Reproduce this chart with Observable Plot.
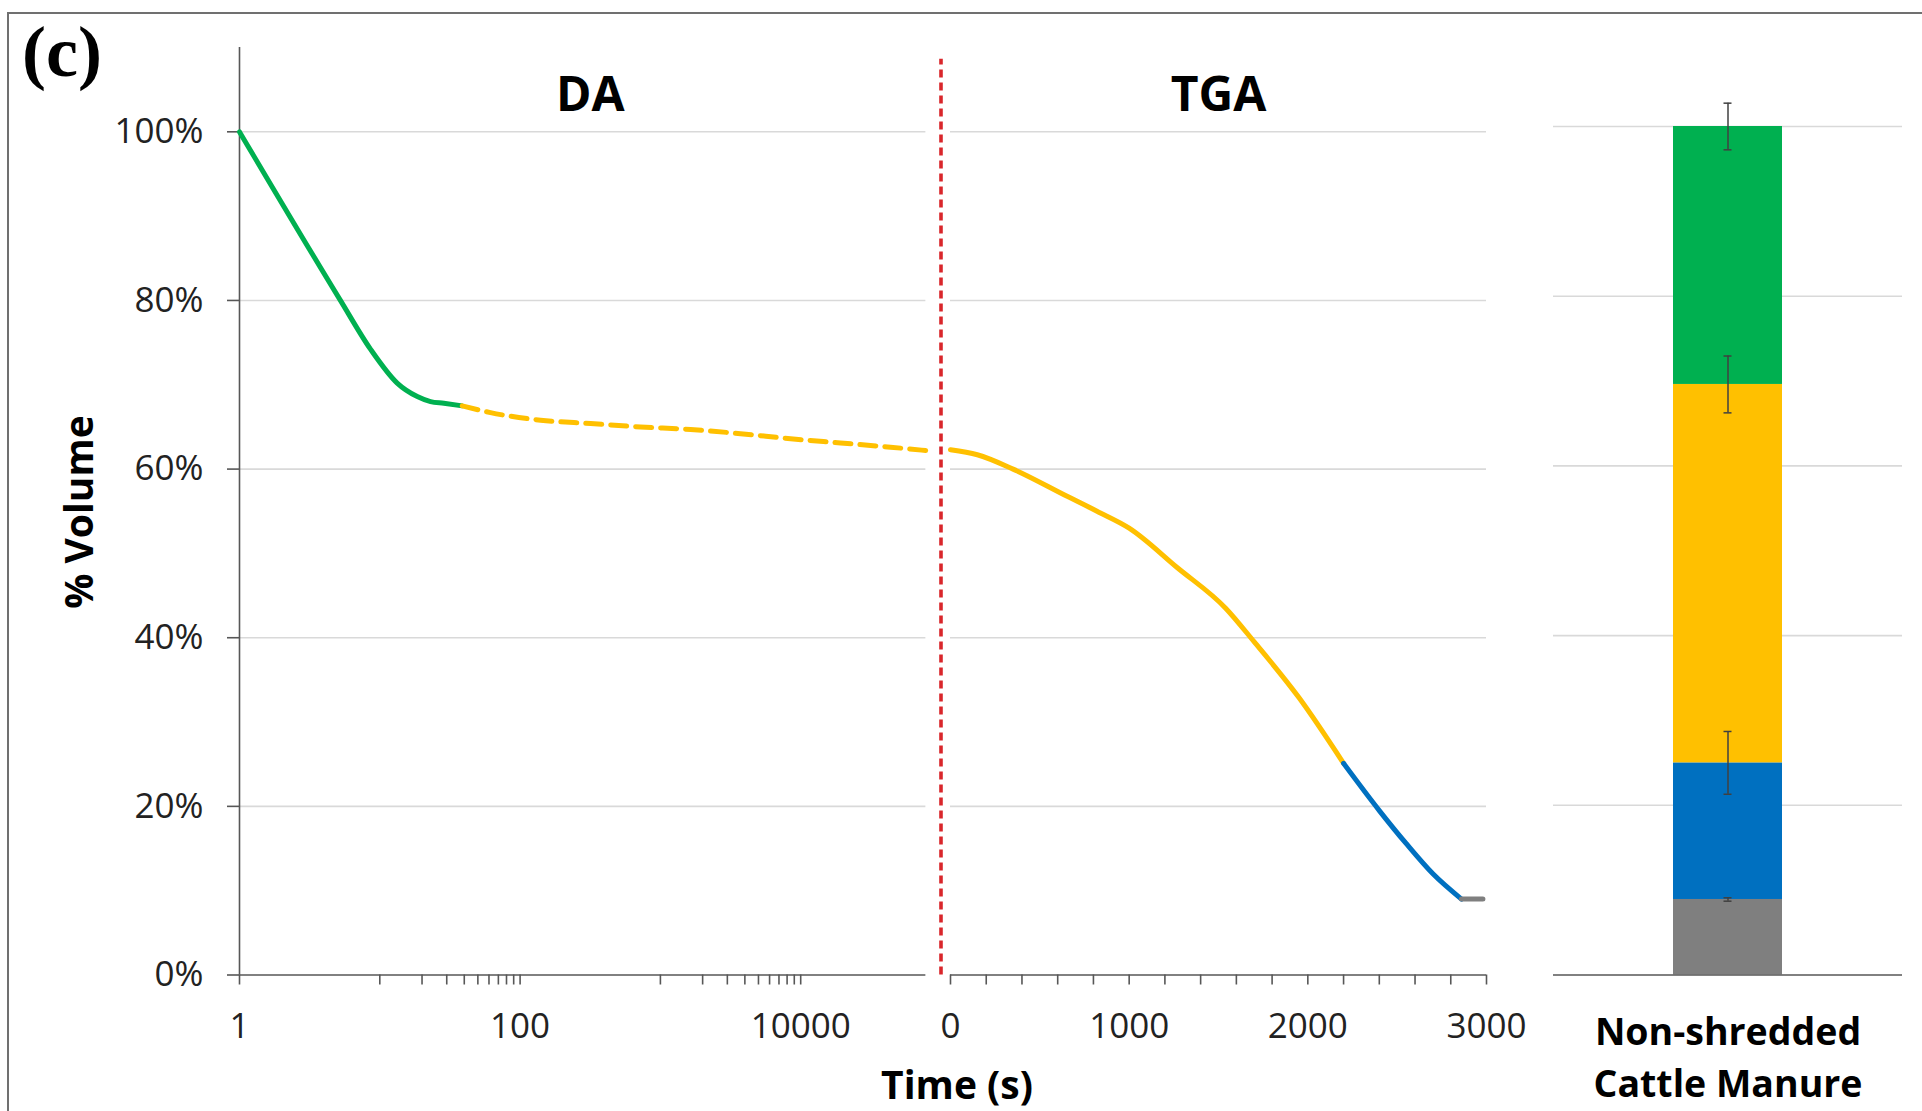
<!DOCTYPE html>
<html>
<head>
<meta charset="utf-8">
<script src="https://cdn.jsdelivr.net/npm/d3@7"></script>
<script src="https://cdn.jsdelivr.net/npm/@observablehq/plot@0.6"></script>
<style>
  html, body { margin: 0; padding: 0; background: #fff; overflow: hidden; }
  #wrap { position: relative; width: 1922px; height: 1111px; overflow: hidden; background: #fff; font-family: "Open Sans", sans-serif; }
  .abs { position: absolute; }
  #frame { left: 7px; top: 12px; width: 1960px; height: 1160px; border-left: 2px solid #707070; border-top: 2px solid #707070; }
  #panelLetter { left: 22px; top: 16px; font-family: "Liberation Serif", "Times New Roman", serif; font-weight: bold; font-size: 72px; line-height: 1; color: #000; }
  .axisTitle { font-weight: bold; font-size: 39px; line-height: 1; color: #000; white-space: nowrap; transform: translate(-50%, -50%); }
  #ylab { left: 77px; top: 512px; transform: translate(-50%, -50%) rotate(-90deg); }
  #xlab { left: 957px; top: 1083px; }
  .plotbox { position: absolute; top: 0; }
  .plotbox svg { max-width: none; }
</style>
</head>
<body>
<div id="wrap">
  <div id="frame" class="abs"></div>
  <div id="daBox" class="plotbox" style="left:0px"></div>
  <div id="tgaBox" class="plotbox" style="left:945px"></div>
  <div id="barBox" class="plotbox" style="left:1545px"></div>
  <div id="panelLetter" class="abs">(c)</div>
  <div id="ylab" class="abs axisTitle">% Volume</div>
  <div id="xlab" class="abs axisTitle">Time (s)</div>
</div>
<script>
// ---------------- data ----------------
const yTicks = [0, 20, 40, 60, 80, 100];
const gridTicks = [20, 40, 60, 80, 100];

const daLabelTicks = [1, 100, 10000];
const daMinorTicks = [10, 20, 30, 40, 50, 60, 70, 80, 90, 1000, 2000, 3000, 4000, 5000, 6000, 7000, 8000, 9000];
const daAxisEnd = 78000;
const daDivider = [100000];

const tgaTicks = [0, 200, 400, 600, 800, 1000, 1200, 1400, 1600, 1800, 2000, 2200, 2400, 2600, 2800, 3000];
const tgaLabelTicks = [0, 1000, 2000, 3000];

const panelTitles = ["DA", "TGA"];

// DA stage (log time): green solid, then yellow dashed
const daGreenTime = [1, 5.2, 8.6, 13.3, 18.5, 23, 28.6, 38.7];
const daGreenVol  = [100, 80.1, 74.2, 70.2, 68.6, 68.0, 67.8, 67.5];
const daYellowTime = [38.7, 61.5, 140, 318, 721, 1640, 3724, 8459, 19220, 43650, 78000];
const daYellowVol  = [67.5, 66.7, 65.8, 65.4, 65.0, 64.7, 64.2, 63.6, 63.1, 62.6, 62.2];

// TGA stage (linear time)
const tgaYellowTime = [0, 150, 350, 650, 820, 1000, 1270, 1540, 1700, 1950, 2200];
const tgaYellowVol  = [62.3, 61.7, 60.0, 56.8, 55.0, 53.0, 48.3, 43.5, 39.5, 32.9, 25.1];
const tgaBlueTime = [2200, 2400, 2550, 2700, 2860];
const tgaBlueVol  = [25.1, 19.5, 15.6, 12.0, 9.0];
const tgaGrayTime = [2860, 2980];
const tgaGrayVol  = [9.0, 9.0];

// Stacked bar (bottom to top)
const barCategory = ["Non-shredded\nCattle Manure"];
const barParts  = ["Residue", "Fraction 3", "Fraction 2", "Fraction 1"];
const barValues = [8.9, 16.1, 44.6, 30.4];
const barErrors = [0.2, 3.7, 3.35, 2.75];

// ---------------- styles ----------------
const C = { green: "#00B050", yellow: "#FFC000", blue: "#0070C0", gray: "#7F7F7F", red: "#D9262B",
            grid: "#D9D9D9", axis: "#575757", text: "#222222" };
const partColors = [C.gray, C.blue, C.yellow, C.green];
const zip = (xs, ys) => xs.map((x, i) => ({ x, y: ys[i] }));
const svgStyle = { background: "transparent", overflow: "visible", fontFamily: "Open Sans, sans-serif", fontSize: "35px", color: C.text };
const H = 1111, MT = 47, MB = 136.5, LW = 5;

// ---------------- DA panel ----------------
const da = Plot.plot({
  width: 945, height: H, marginLeft: 239, marginRight: 4.5, marginTop: MT, marginBottom: MB,
  style: svgStyle,
  x: { type: "log", domain: [1, 100000] },
  y: { domain: [0, 110] },
  marks: [
    Plot.ruleY(gridTicks, { x1: 1, x2: daAxisEnd, stroke: C.grid, strokeWidth: 1.6 }),
    Plot.ruleY([0], { x1: 1, x2: daAxisEnd, stroke: C.axis, strokeWidth: 1.6 }),
    Plot.ruleX([1], { y1: 0, y2: 110, stroke: C.axis, strokeWidth: 1.6 }),
    Plot.axisY({ ticks: yTicks, tickFormat: d => `${d}%`, tickSize: 12, tickPadding: 24, stroke: C.axis, strokeWidth: 1.6, fill: C.text, fontSize: 35, label: null }),
    Plot.axisX({ ticks: [...daLabelTicks, ...daMinorTicks], tickFormat: d => daLabelTicks.includes(d) ? String(d) : "",
                 tickSize: 10, tickPadding: 28, stroke: C.axis, strokeWidth: 1.6, fill: C.text, fontSize: 35, label: null }),
    Plot.line(zip(daGreenTime, daGreenVol), { x: "x", y: "y", stroke: C.green, strokeWidth: LW, curve: "monotone-x" }),
    Plot.line(zip(daYellowTime, daYellowVol), { x: "x", y: "y", stroke: C.yellow, strokeWidth: LW, strokeDasharray: "16,9", curve: "monotone-x" }),
    Plot.ruleX(daDivider, { y1: 0, y2: 108.6, stroke: C.red, strokeWidth: 3.6, strokeDasharray: "8,5" }),
    Plot.text([panelTitles[0]], { frameAnchor: "top", dy: 29, fontSize: 48, fontWeight: "bold", fill: "#000", text: d => d })
  ]
});
document.getElementById("daBox").append(da);

// ---------------- TGA panel ----------------
const tga = Plot.plot({
  width: 600, height: H, marginLeft: 5, marginRight: 59, marginTop: MT, marginBottom: MB,
  style: svgStyle,
  x: { domain: [0, 3000] },
  y: { domain: [0, 110], axis: null },
  marks: [
    Plot.ruleY(gridTicks, { stroke: C.grid, strokeWidth: 1.6 }),
    Plot.ruleY([0], { stroke: C.axis, strokeWidth: 1.6 }),
    Plot.axisX({ ticks: tgaTicks, tickFormat: d => tgaLabelTicks.includes(d) ? String(d) : "",
                 tickSize: 10, tickPadding: 28, stroke: C.axis, strokeWidth: 1.6, fill: C.text, fontSize: 35, label: null }),
    Plot.line(zip(tgaYellowTime, tgaYellowVol), { x: "x", y: "y", stroke: C.yellow, strokeWidth: LW, curve: "monotone-x" }),
    Plot.line(zip(tgaBlueTime, tgaBlueVol), { x: "x", y: "y", stroke: C.blue, strokeWidth: LW, curve: "monotone-x" }),
    Plot.line(zip(tgaGrayTime, tgaGrayVol), { x: "x", y: "y", stroke: C.gray, strokeWidth: LW }),
    Plot.text([panelTitles[1]], { frameAnchor: "top", dy: 29, fontSize: 48, fontWeight: "bold", fill: "#000", text: d => d })
  ]
});
document.getElementById("tgaBox").append(tga);

// ---------------- Stacked bar panel ----------------
const barData = barParts.map((p, i) => ({ cat: barCategory[0], part: p, value: barValues[i] }));
const tops = Array.from(d3.cumsum(barValues));
const errData = barParts.map((p, i) => ({ cat: barCategory[0], mid: tops[i], err: barErrors[i] }));

const bar = Plot.plot({
  width: 377, height: H, marginLeft: 8, marginRight: 20, marginTop: 126, marginBottom: MB,
  style: svgStyle,
  x: { domain: barCategory, padding: 0.524, axis: null },
  y: { domain: [0, 100], axis: null },
  color: { type: "ordinal", domain: barParts, range: partColors },
  marks: [
    Plot.ruleY(gridTicks, { stroke: C.grid, strokeWidth: 1.6 }),
    Plot.barY(barData, { x: "cat", y: "value", fill: "part" }),
    Plot.ruleY([0], { stroke: C.axis, strokeWidth: 1.6 }),
    Plot.ruleX(errData, { x: "cat", y1: d => d.mid - d.err, y2: d => d.mid + d.err, stroke: "#404040", strokeWidth: 1.5 }),
    Plot.tickY(errData, { x: "cat", y: d => d.mid - d.err, insetLeft: 50.5, insetRight: 50.5, stroke: "#404040", strokeWidth: 1.5 }),
    Plot.tickY(errData, { x: "cat", y: d => d.mid + d.err, insetLeft: 50.5, insetRight: 50.5, stroke: "#404040", strokeWidth: 1.5 }),
    Plot.text(barCategory, { x: d => d, text: d => d, frameAnchor: "bottom", lineAnchor: "top", dy: 33.5, lineHeight: 1.38,
                             fontSize: 37.5, fontWeight: "bold", fill: "#000" })
  ]
});
document.getElementById("barBox").append(bar);
</script>
</body>
</html>
